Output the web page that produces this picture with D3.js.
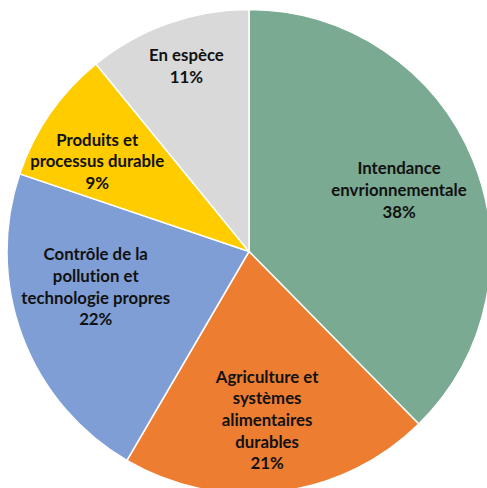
<!DOCTYPE html>
<html lang="fr">
<head>
    <meta charset="UTF-8">
    <title>Répartition</title>
    <script src="https://d3js.org/d3.v7.min.js"></script>
    <style>
        html, body { margin: 0; padding: 0; background: #fff; overflow: hidden; }
        text { font-variant-ligatures: none; font-feature-settings: "liga" 0; }
    </style>
</head>
<body>
    <script>
        // Data (clockwise from 12 o'clock)
        const categories = [
            ["Intendance", "envrionnementale"],
            ["Agriculture et", "systèmes", "alimentaires", "durables"],
            ["Contrôle de la", "pollution et", "technologie propres"],
            ["Produits et", "processus durable"],
            ["En espèce"]
        ];
        const values = [38, 21, 22, 9, 11];
        const colors = ["#7aaa91", "#ed7d31", "#7f9ed6", "#ffcc00", "#d9d9d9"];

        // label placement tweaks (fraction of radius, angle shift in degrees)
        const labelRadius = [0.67, 0.70, 0.65, 0.73, 0.81];
        const labelShift = [0, 1, 7.5, -4, 1];

        const width = 487, height = 488;
        const cx = 249, cy = 251.5, radius = 242;
        const lineH = 21.7;

        const svg = d3.select("body").append("svg")
            .attr("width", width)
            .attr("height", height);

        const g = svg.append("g")
            .attr("transform", `translate(${cx},${cy})`);

        const pie = d3.pie().sort(null).value(d => d);
        const arcs = pie(values);

        const arc = d3.arc().innerRadius(0).outerRadius(radius);

        g.selectAll("path.slice")
            .data(arcs)
            .enter().append("path")
            .attr("class", "slice")
            .attr("d", arc)
            .attr("fill", (d, i) => colors[i])
            .attr("stroke", "#fff")
            .attr("stroke-width", 1.5);

        // Labels
        const labels = g.selectAll("text.label")
            .data(arcs)
            .enter().append("text")
            .attr("class", "label")
            .attr("text-anchor", "middle")
            .attr("font-family", "Lato, 'Open Sans', sans-serif")
            .attr("font-weight", "bold")
            .attr("font-size", 16.8)
            .attr("fill", "#111")
            .each(function (d, i) {
                const mid = (d.startAngle + d.endAngle) / 2 + labelShift[i] * Math.PI / 180;
                const r = radius * labelRadius[i];
                const x = r * Math.sin(mid);
                const y = -r * Math.cos(mid);
                const lines = categories[i].concat([Math.round(values[i]) + "%"]);
                const y0 = y - (lines.length - 1) * lineH / 2;
                d3.select(this).selectAll("tspan")
                    .data(lines)
                    .enter().append("tspan")
                    .attr("x", x)
                    .attr("y", (t, k) => y0 + k * lineH)
                    .attr("dy", "0.36em")
                    .text(t => t);
            });
    </script>
</body>
</html>
